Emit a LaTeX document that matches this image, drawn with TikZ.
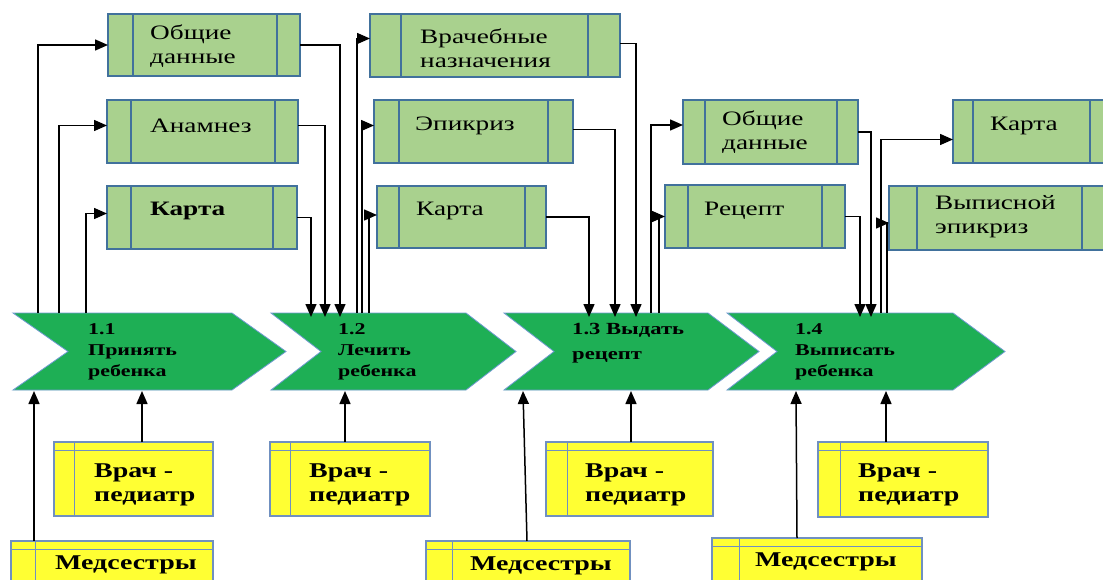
\documentclass[tikz,border=0pt]{standalone}
\usepackage{fontspec}
\setmainfont{Liberation Serif}[FakeStretch=1.33]
\usetikzlibrary{arrows.meta}
\definecolor{gfill}{HTML}{A9D18E}
\definecolor{gedge}{HTML}{41719C}
\definecolor{chevfill}{HTML}{1EAF55}
\definecolor{chevedge}{HTML}{6F9BD1}
\definecolor{yfill}{HTML}{FFFF33}
\definecolor{yedge}{HTML}{7090C0}
\newcommand{\greenbox}[7]{%
  \node[gbox,minimum width={#4-#2},minimum height={#5-#3}] (#1) at ({(#2+#4)/2},{(#3+#5)/2}) {};
  \draw[gline] (#6,#3) -- (#6,#5) (#7,#3) -- (#7,#5);
}
\newcommand{\yellowbox}[6]{%
  \node[ybox,minimum width={#4-#2},minimum height={#5-#3}] (#1) at ({(#2+#4)/2},{(#3+#5)/2}) {};
  \draw[yline] (#2,{#3+8}) -- (#4,{#3+8}) (#6,#3) -- (#6,#5);
}
\begin{document}
\begin{tikzpicture}[x=1pt,y=-1pt,
  gbox/.style={draw=gedge,fill=gfill,line width=1.1pt,inner sep=0,outer sep=0},
  gline/.style={draw=gedge,line width=1.1pt},
  ybox/.style={draw=yedge,fill=yfill,line width=1.1pt,inner sep=0,outer sep=0},
  yline/.style={draw=yedge,line width=1pt},
  chev/.style={fill=chevfill,draw=chevedge,line width=0.8pt},
  arr/.style={draw=black,line width=1.5pt,-{Triangle[length=13pt,width=11pt]}},
  gtext/.style={anchor=west,inner sep=0,align=left,font=\rmfamily\fontsize{20.5}{24}\selectfont},
  ctext/.style={anchor=west,inner sep=0,align=left,font=\rmfamily\fontsize{16.5}{21}\selectfont\bfseries},
  ytext/.style={anchor=west,inner sep=0,align=left,font=\rmfamily\fontsize{21}{24.5}\selectfont\bfseries},
]
\fill[white] (0,0) rectangle (1103,580);
\useasboundingbox (0,0) rectangle (1103,580);

% chevrons
\draw[chev] (13,313) -- (232,313) -- (286,351.5) -- (232,390) -- (13,390) -- (68,351.5) -- cycle;
\draw[chev] (271,313) -- (466,313) -- (516,351.5) -- (466,390) -- (271,390) -- (321,351.5) -- cycle;
\draw[chev] (504,313) -- (708,313) -- (759,351.5) -- (708,390) -- (504,390) -- (554,351.5) -- cycle;
\draw[chev] (727,313) -- (953,313) -- (1005,351.5) -- (953,390) -- (727,390) -- (777,351.5) -- cycle;
\node[ctext] (c1) at (88,352) {1.1\\Принять\\ребенка};
\node[ctext] (c2) at (338,352) {1.2\\Лечить\\ребенка};
\node[ctext,font=\rmfamily\fontsize{17}{25}\selectfont\bfseries] (c3) at (572,343) {1.3 Выдать\\рецепт};
\node[ctext] (c4) at (795,352) {1.4\\Выписать\\ребенка};

% green data boxes
\greenbox{g11}{108}{14}{300}{76}{133}{277}
\greenbox{g12}{107}{100}{298}{163}{131}{275}
\greenbox{g13}{107}{186}{297}{249}{131}{273}
\greenbox{g21}{370}{14}{620}{77}{401}{588}
\greenbox{g22}{374}{100}{573}{163}{399}{548}
\greenbox{g23}{377}{186}{546}{248}{399}{525}
\greenbox{g31}{683}{100}{858}{164}{705}{837}
\greenbox{g32}{665}{185}{845}{248}{688}{822}
\greenbox{g41}{953}{100}{1118}{163}{973}{1090}
\greenbox{g42}{889}{186}{1118}{250}{917}{1082}
\node[gtext] (tg11) at (150,46) {Общие\\данные};
\node[gtext] (tg12) at (150,126) {Анамнез};
\node[gtext] (tg13) at (150,211) {\textbf{Карта}};
\node[gtext] (tg21) at (420,48) {Врачебные\\назначения};
\node[gtext] (tg22) at (415,126) {Эпикриз};
\node[gtext] (tg23) at (416,211) {Карта};
\node[gtext] (tg31) at (722,132) {Общие\\данные};
\node[gtext] (tg32) at (704,211) {Рецепт};
\node[gtext] (tg41) at (990,126) {Карта};
\node[gtext] (tg42) at (935,217) {Выписной\\эпикриз};

% yellow resource boxes
\yellowbox{v1}{54}{442}{213}{516}{74}
\yellowbox{v2}{270}{442}{430}{516}{290}
\yellowbox{v3}{546}{442}{713}{516}{567}
\yellowbox{v4}{818}{442}{988}{517}{840}
\yellowbox{m1}{11}{541}{213}{595}{35}
\yellowbox{m2}{426}{541}{630}{595}{452}
\yellowbox{m3}{712}{538}{922}{595}{739}
\node[ytext] (tv1) at (94,485) {Врач -\\педиатр};
\node[ytext] (tv2) at (309,485) {Врач -\\педиатр};
\node[ytext] (tv3) at (585,485) {Врач -\\педиатр};
\node[ytext] (tv4) at (858,485) {Врач -\\педиатр};
\node[ytext] (tm1) at (55,565) {Медсестры};
\node[ytext] (tm2) at (470,566) {Медсестры};
\node[ytext] (tm3) at (755,562) {Медсестры};

% 1.1 outputs
\draw[arr] (38,313) |- (g11.west);
\draw[arr] (59,313) |- ([yshift=6pt]g12.west);
\draw[arr] (86,313) |- ([yshift=4pt]g13.west);
% to 1.2
\draw[arr] (g11.east) -| (340,317);
\draw[arr] ([yshift=6pt]g12.east) -| (325,317);
\draw[arr] (g13.east) -| (311,317);
% 1.2 outputs
\draw[arr] (357,313) |- ([yshift=7pt]g21.west);
\draw[arr] (362,313) |- ([yshift=6pt]g22.west);
\draw[arr] (369,313) |- ([yshift=2pt]g23.west);
% to 1.3
\draw[arr] ([yshift=2pt]g21.east) -| (636,317);
\draw[arr] ([yshift=2pt]g22.east) -| (615,317);
\draw[arr] (g23.east) -| (589,317);
% 1.3 outputs
\draw[arr] (651,313) |- ([yshift=7pt]g31.west);
\draw[arr] (659,313) |- (g32.west);
% to 1.4
\draw[arr] (g31.east) -| (871,317);
\draw[arr] (g32.east) -| (860,317);
% 1.4 outputs
\draw[arr] (881,313) |- ([yshift=-8pt]g41.west);
\draw[arr] (887,313) |- ([yshift=-5pt]g42.west);

% resources
\draw[arr] (v1.north -| 142,0) -- (142,391);
\draw[arr] (m1.north -| 34,0) -- (34,391);
\draw[arr] (v2.north -| 345,0) -- (345,391);
\draw[arr] (m2.north -| 527,0) -- (523,391);
\draw[arr] (v3.north -| 631,0) -- (631,391);
\draw[arr] (m3.north -| 797,0) -- (796,391);
\draw[arr] (v4.north -| 886,0) -- (886,391);
\end{tikzpicture}
\end{document}
